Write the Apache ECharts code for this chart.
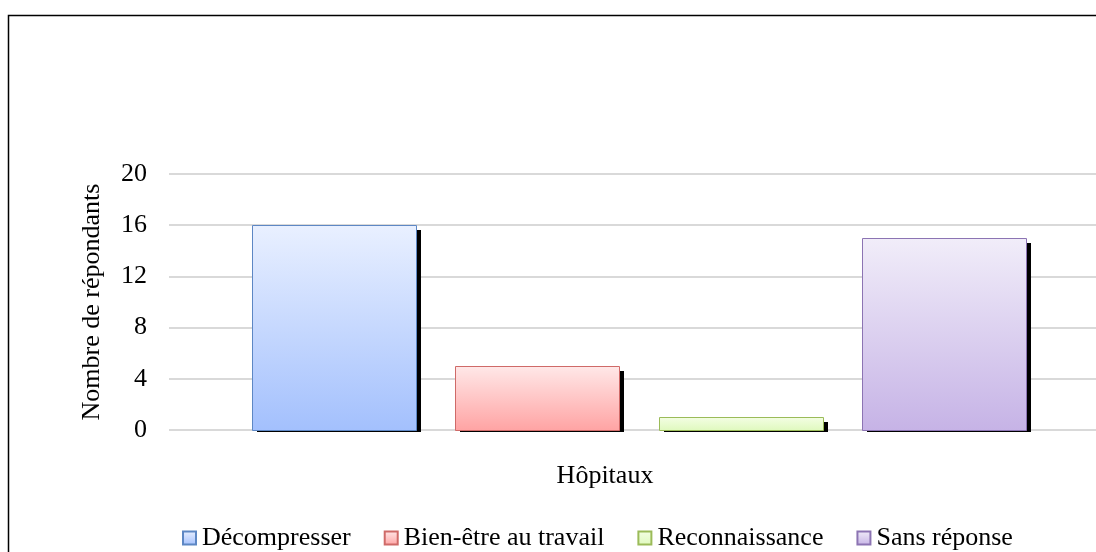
<!DOCTYPE html>
<html>
<head>
<meta charset="utf-8">
<style>
  html, body { margin: 0; padding: 0; background: #fff; }
  #chart { width: 1096px; height: 552px; }
</style>
<script src="https://cdn.jsdelivr.net/npm/echarts@6/dist/echarts.min.js"></script>
</head>
<body>
<div id="chart"></div>
<script>
// Survey answers per theme, hospital staff
const categories = ['Hôpitaux'];
const seriesNames = ['Décompresser', 'Bien-être au travail', 'Reconnaissance', 'Sans réponse'];
const decompresser = [16];
const bienEtre = [5];
const reconnaissance = [1];
const sansReponse = [15];
const yTicks = [0, 4, 8, 12, 16, 20];

const FONT = '"Liberation Serif", "Times New Roman", serif';
const FONT_SIZE = 26;

// Top/bottom gradient colours and outline for each series
const palette = [
  { top: '#e9f0ff', bottom: '#a3c0fd', border: '#5d87c4' },
  { top: '#ffe8e8', bottom: '#ffa3a3', border: '#cf6a68' },
  { top: '#f4fee4', bottom: '#dff9bd', border: '#9bbb59' },
  { top: '#f1edf9', bottom: '#c6b3e6', border: '#8c74b3' }
];

function grad(p) {
  return new echarts.graphic.LinearGradient(0, 0, 0, 1, [
    { offset: 0, color: p.top },
    { offset: 1, color: p.bottom }
  ]);
}

const values = [decompresser, bienEtre, reconnaissance, sansReponse];

// Bar layout inside the category band (pixels)
const BAR_W = 164;
const BAR_GAP = 39.3;
const GROUP_SHIFT = 6.5;
const SHADOW_DX = 5;
const SHADOW_TOP = 5;
const SHADOW_BOTTOM = 2;

function makeRenderer(seriesIndex, count) {
  return function (params, api) {
    const cat = api.value(0);
    const val = api.value(1);
    const top = api.coord([cat, val]);
    const base = api.coord([cat, 0]);
    const pitch = BAR_W + BAR_GAP;
    const cx = top[0] + GROUP_SHIFT + (seriesIndex - (count - 1) / 2) * pitch;
    const x = Math.round(cx - BAR_W / 2) + 0.5;
    const y = Math.round(top[1]) + 0.5;
    const h = Math.round(base[1]) - Math.round(top[1]);
    const p = palette[seriesIndex];
    return {
      type: 'group',
      children: [
        {
          type: 'rect',
          shape: {
            x: x + SHADOW_DX - 0.5,
            y: y + SHADOW_TOP - 0.5,
            width: BAR_W,
            height: Math.max(h - SHADOW_TOP + SHADOW_BOTTOM, 2)
          },
          style: { fill: '#000' }
        },
        {
          type: 'rect',
          shape: { x: x, y: y, width: BAR_W, height: h },
          style: { fill: grad(p), stroke: p.border, lineWidth: 1 }
        }
      ]
    };
  };
}

const series = seriesNames.map((name, i) => ({
  name: name,
  type: 'custom',
  renderItem: makeRenderer(i, seriesNames.length),
  encode: { x: 0, y: 1 },
  data: values[i].map((v, k) => [k, v]),
  itemStyle: { color: grad(palette[i]), borderColor: palette[i].border, borderWidth: 1 },
  silent: true
}));

const chart = echarts.init(document.getElementById('chart'), null, { renderer: 'canvas' });
chart.setOption({
  animation: false,
  backgroundColor: '#fff',
  grid: { left: 169, top: 174, right: 0, height: 256, containLabel: false },
  xAxis: {
    type: 'category',
    data: categories,
    axisLine: { show: false },
    axisTick: { show: false },
    axisLabel: { show: false }
  },
  yAxis: {
    type: 'value',
    min: yTicks[0],
    max: yTicks[yTicks.length - 1],
    interval: 4,
    name: 'Nombre de répondants',
    nameLocation: 'middle',
    nameGap: 64,
    nameRotate: 90,
    nameTextStyle: { fontFamily: FONT, fontSize: FONT_SIZE, color: '#000' },
    axisLine: { show: false },
    axisTick: { show: false },
    axisLabel: { fontFamily: FONT, fontSize: FONT_SIZE, color: '#000', margin: 22 },
    splitLine: { lineStyle: { color: '#d9d9d9', width: 2 } }
  },
  legend: {
    left: 177,
    top: 520,
    icon: 'rect',
    itemWidth: 13,
    itemHeight: 13,
    itemGap: 33,
    data: seriesNames,
    textStyle: { fontFamily: FONT, fontSize: FONT_SIZE, color: '#000', padding: [0, 0, 0, 1] },
    selectedMode: false
  },
  graphic: [
    {
      type: 'rect',
      shape: { x: 8.5, y: 15.5, width: 1200, height: 700 },
      style: { fill: null, stroke: '#000', lineWidth: 1.5 },
      silent: true
    },
    {
      type: 'text',
      x: 605,
      y: 476,
      style: {
        text: categories[0],
        font: FONT_SIZE + 'px ' + FONT,
        fill: '#000',
        align: 'center',
        verticalAlign: 'middle'
      }
    }
  ],
  series: series
});
</script>
</body>
</html>
